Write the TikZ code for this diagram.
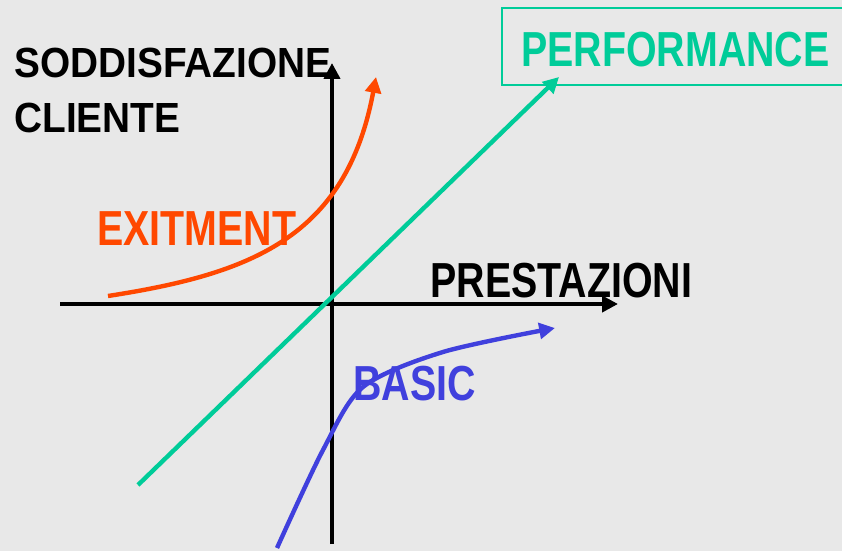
\documentclass[tikz,border=0pt]{standalone}
\usepackage{fontspec}
\setmainfont{Liberation Sans}
\newfontfamily\narrowfont{Liberation Sans}[FakeStretch=0.8]
\newfontfamily\axisfont{Liberation Sans}[FakeStretch=0.92]
\usetikzlibrary{arrows.meta,calc}
\definecolor{bgcol}{RGB}{232,232,232}
\definecolor{perfgreen}{RGB}{0,204,153}
\definecolor{exitorange}{RGB}{255,72,0}
\definecolor{basicblue}{RGB}{64,64,221}
\begin{document}
\begin{tikzpicture}
	[x=0.02cm,y=-0.02cm,
	axis/.style={line width=2.8pt,-{Triangle[length=9pt,width=9pt]}},
	curve/.style={line width=2.5pt,-{Triangle[length=9pt,width=9pt]}},
	lbl/.style={font=\narrowfont\bfseries\fontsize{28}{31}\selectfont,inner sep=0pt,anchor=base west},
	axislbl/.style={font=\axisfont\bfseries\fontsize{24}{27}\selectfont,inner sep=0pt,anchor=base west}]
	\fill[bgcol] (0,0) rectangle (842,551);
	\clip (0,0) rectangle (842,551);
	% axes
	\coordinate (ybot) at (332,544);
	\coordinate (ytop) at (332,63);
	\coordinate (xleft) at (60,304);
	\coordinate (xright) at (618,304);
	\draw[axis] (ybot) -- (ytop);
	\draw[axis] (xleft) -- (xright);
	\node[axislbl] (yname1) at (14,77) {SODDISFAZIONE};
	\node[axislbl] (yname2) at (14,132) {CLIENTE};
	\node[lbl] (xname) at (430,297) {PRESTAZIONI};
	% performance
	\node[lbl,text=perfgreen] (perf) at (521,66) {PERFORMANCE};
	\draw[perfgreen,line width=1.3pt] ($(perf.base west)+(-19,-58)$) rectangle ($(perf.base east)+(40,19)$);
	\coordinate (perfstart) at (138,485);
	\coordinate (perfend) at (559,77);
	\draw[curve,perfgreen] (perfstart) -- (perfend);
	% exitment
	\node[lbl,text=exitorange] (exit) at (97,245) {EXITMENT};
	\coordinate (exitstart) at (108,296);
	\coordinate (exitend) at (376,77);
	\draw[curve,exitorange] (exitstart) .. controls (250,274) and (346,238) .. (exitend);
	% basic
	\node[lbl,text=basicblue] (basic) at (353,400) {BASIC};
	\draw[curve,basicblue] plot[smooth] coordinates
		{(277,548) (323,450) (363,387) (443,352) (555,328)};
\end{tikzpicture}
\end{document}
